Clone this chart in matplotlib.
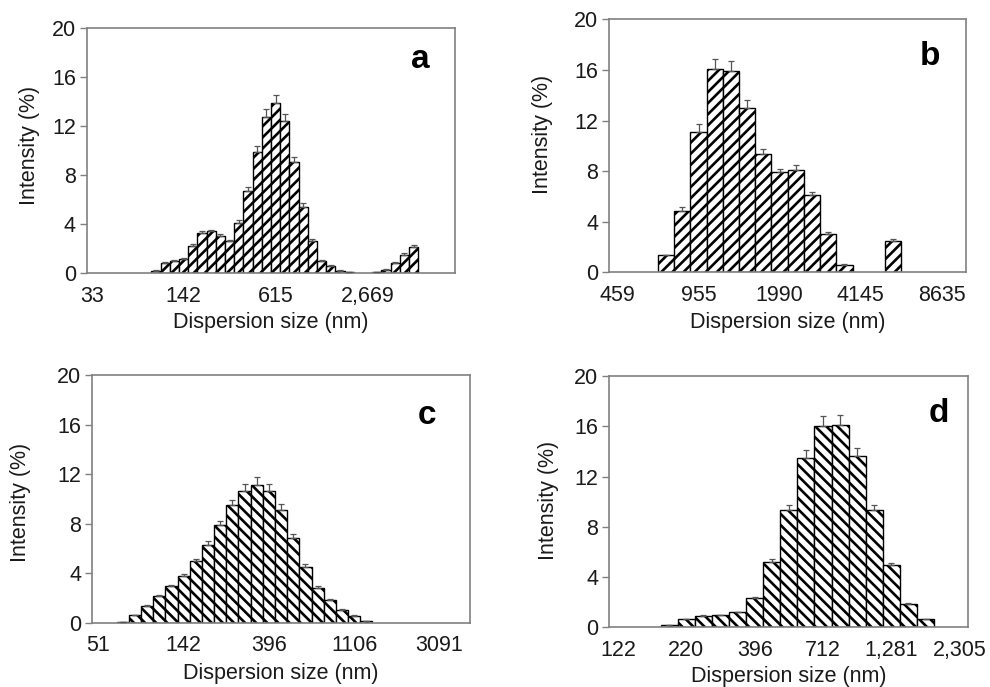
import numpy as np
import matplotlib

matplotlib.use("Agg")
import matplotlib.pyplot as plt

plt.rcParams["font.family"] = ["Liberation Sans", "DejaVu Sans"]
plt.rcParams["hatch.linewidth"] = 1.9

# ============================================
# DATA (intensity % per size bin, upper error)
# ============================================

a_ticks = [0, 10, 20, 30]
a_labels = ["33", "142", "615", "2,669"]
a_values = [0, 0, 0, 0, 0, 0, 0, 0.2, 0.85, 1.0,
            1.15, 2.2, 3.25, 3.4, 3.0, 2.6, 4.05, 6.7, 9.85, 12.7,
            13.85, 12.4, 9.1, 5.4, 2.65, 1.0, 0.6, 0.2, 0.05, 0,
            0, 0.05, 0.25, 0.8, 1.5, 2.15, 0, 0, 0, 0]
a_errors = [0, 0, 0, 0, 0, 0, 0, 0.05, 0.08, 0.08,
            0.1, 0.15, 0.15, 0.15, 0.15, 0.1, 0.25, 0.35, 0.5, 0.65,
            0.7, 0.6, 0.4, 0.3, 0.15, 0.1, 0.05, 0.03, 0.02, 0,
            0, 0.02, 0.05, 0.1, 0.1, 0.1, 0, 0, 0, 0]

b_ticks = [0, 5, 10, 15, 20]
b_labels = ["459", "955", "1990", "4145", "8635"]
b_values = [0, 0, 0, 1.35, 4.87, 11.1, 16.05, 15.95, 12.95, 9.33,
            7.9, 8.06, 6.08, 3.05, 0.6, 0, 0, 2.5, 0, 0,
            0, 0]
b_errors = [0, 0, 0, 0.05, 0.3, 0.6, 0.8, 0.75, 0.65, 0.45,
            0.3, 0.4, 0.25, 0.1, 0.05, 0, 0, 0.1, 0, 0,
            0, 0]

c_ticks = [0, 7, 14, 21, 28]
c_labels = ["51", "142", "396", "1106", "3091"]
c_values = [0, 0, 0.05, 0.6, 1.35, 2.15, 2.95, 3.8, 4.95, 6.3,
            7.9, 9.5, 10.65, 11.15, 10.6, 9.1, 6.85, 4.5, 2.8, 1.8,
            1.05, 0.55, 0.15, 0, 0, 0, 0, 0, 0, 0,
            0]
c_errors = [0, 0, 0, 0.05, 0.08, 0.1, 0.12, 0.15, 0.2, 0.3,
            0.35, 0.4, 0.55, 0.6, 0.6, 0.45, 0.35, 0.2, 0.15, 0.1,
            0.08, 0.05, 0.02, 0, 0, 0, 0, 0, 0, 0,
            0]

d_ticks = [0, 4, 8, 12, 16, 20]
d_labels = ["122", "220", "396", "712", "1,281", "2,305"]
d_values = [0, 0, 0, 0.19, 0.64, 0.9, 0.95, 1.2, 2.3, 5.17,
            9.3, 13.5, 16.05, 16.07, 13.63, 9.3, 4.93, 1.88, 0.64, 0,
            0]
d_errors = [0, 0, 0, 0.02, 0.03, 0.05, 0.05, 0.05, 0.15, 0.25,
            0.45, 0.65, 0.75, 0.8, 0.65, 0.45, 0.15, 0.05, 0.03, 0,
            0]

# ============================================
# LAYOUT
# ============================================

PANELS = [
    # letter, values, errors, ticks, labels, hatch, axes rect, letter pos, ylabel x, ylabel y, xlabel y
    ("a", a_values, a_errors, a_ticks, a_labels, "///",
     [0.0879, 0.6026, 0.3717, 0.3566], (0.905, 0.87), -0.155, 0.52, -0.204),
    ("b", b_values, b_errors, b_ticks, b_labels, "///",
     [0.6155, 0.6036, 0.3603, 0.3683], (0.90, 0.852), -0.186, 0.543, -0.20),
    ("c", c_values, c_errors, c_ticks, c_labels, "\\\\\\",
     [0.0932, 0.0936, 0.3815, 0.3606], (0.885, 0.838), -0.191, 0.485, -0.204),
    ("d", d_values, d_errors, d_ticks, d_labels, "\\\\\\",
     [0.6155, 0.0869, 0.3626, 0.3658], (0.919, 0.85), -0.17, 0.503, -0.197),
]

SPINE = "#808080"
TEXT = "#1a1a1a"
FS = 15.5

fig = plt.figure(figsize=(9.9, 6.87), dpi=100)

for letter, vals, errs, ticks, labels, hatch, rect, lpos, ylx, yly, xly in PANELS:
    ax = fig.add_axes(rect)
    vals = np.array(vals)
    errs = np.array(errs)
    x = np.arange(len(vals))
    keep = vals > 0

    ax.bar(x[keep], vals[keep], width=1.0, color="white", edgecolor="black",
           linewidth=1.0, hatch=hatch, zorder=2)
    ax.errorbar(x[keep], vals[keep],
                yerr=[np.zeros(keep.sum()), errs[keep]],
                fmt="none", ecolor="#555555", elinewidth=0.9, capsize=2.5,
                capthick=0.9, zorder=3)

    ax.set_xlim(-0.5, len(vals) - 0.5)
    ax.set_ylim(0, 20)
    ax.set_yticks([0, 4, 8, 12, 16, 20])
    ax.set_xticks(ticks)
    ax.set_xticklabels(labels)

    for s in ax.spines.values():
        s.set_color(SPINE)
        s.set_linewidth(1.2)

    ax.tick_params(axis="y", direction="out", length=5, width=1.0,
                   color=SPINE, labelsize=FS, labelcolor=TEXT, pad=3)
    ax.tick_params(axis="x", length=0, labelsize=FS, labelcolor=TEXT, pad=9)

    ax.set_xlabel("Dispersion size (nm)", fontsize=FS, color=TEXT)
    ax.set_ylabel("Intensity (%)", fontsize=FS, color=TEXT)
    ax.xaxis.label.set_va("center")
    ax.yaxis.label.set_va("center")
    ax.xaxis.set_label_coords(0.5, xly)
    ax.yaxis.set_label_coords(ylx, yly)

    ax.text(lpos[0], lpos[1], letter, transform=ax.transAxes, fontsize=24,
            fontweight="bold", ha="center", va="center", color="black")

fig.savefig("out.png", dpi=100, facecolor="white")
plt.close()
